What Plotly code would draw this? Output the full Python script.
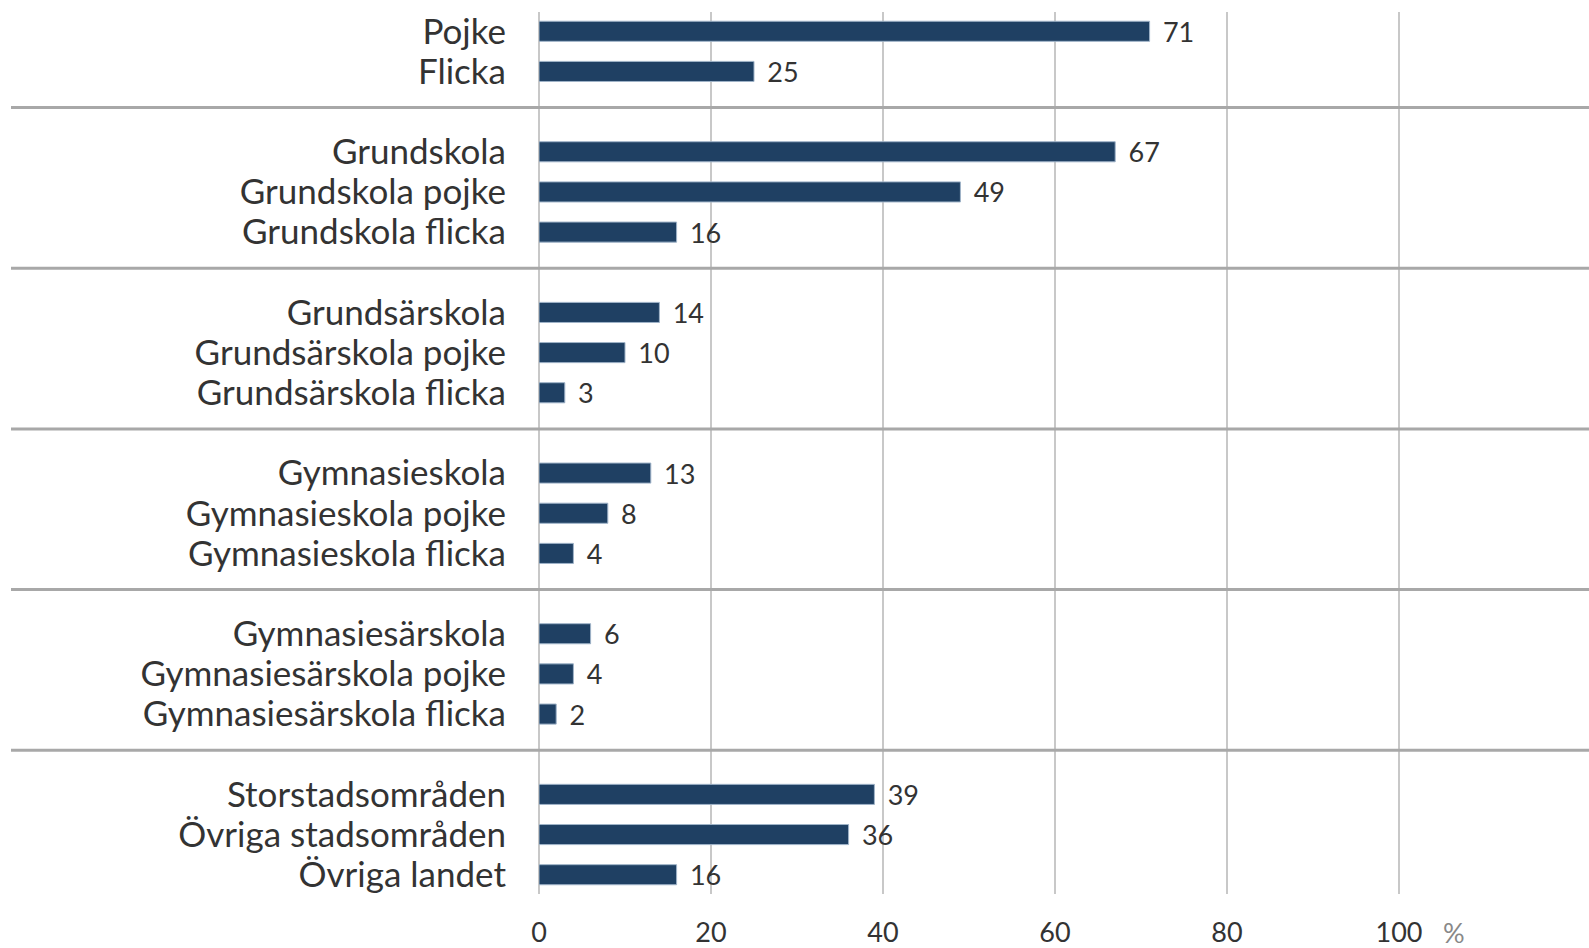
import plotly.graph_objects as go

groups = [
    ["Pojke", "Flicka"],
    ["Grundskola", "Grundskola pojke", "Grundskola flicka"],
    ["Grundsärskola", "Grundsärskola pojke", "Grundsärskola flicka"],
    ["Gymnasieskola", "Gymnasieskola pojke", "Gymnasieskola flicka"],
    ["Gymnasiesärskola", "Gymnasiesärskola pojke", "Gymnasiesärskola flicka"],
    ["Storstadsområden", "Övriga stadsområden", "Övriga landet"],
]
values = [
    [71, 25],
    [67, 49, 16],
    [14, 10, 3],
    [13, 8, 4],
    [6, 4, 2],
    [39, 36, 16],
]
x_ticks = [0, 20, 40, 60, 80, 100]

labels, vals, slots, seps = [], [], [], []
s = 0
for gi, (g, v) in enumerate(zip(groups, values)):
    for lab, val in zip(g, v):
        labels.append(lab)
        vals.append(val)
        slots.append(s)
        s += 1
    if gi < len(groups) - 1:
        seps.append(s - 0.1)
        s += 1

FONT = "Lato"
BAR = "#1f4063"
X_MAX = (1589 - 539) / 8.6

fig = go.Figure()
fig.add_trace(go.Bar(
    x=vals, y=slots, orientation="h", width=0.5,
    marker=dict(color=BAR, line=dict(color="#9fb3c8", width=1)),
    text=vals, texttemplate="\u00a0\u2009%{text}", textposition="outside",
    constraintext="none",
    textfont=dict(family=FONT, size=27, color="#333333"),
    cliponaxis=False, hoverinfo="skip",
))

shapes = []
for y in seps:
    shapes.append(dict(type="line", xref="paper", yref="y",
                       x0=(11 - 539) / (1589 - 539), x1=1, y0=y, y1=y,
                       line=dict(color="#a8a8a8", width=3)))

fig.update_layout(
    width=1589, height=948,
    margin=dict(l=539, r=0, t=12, b=54, autoexpand=False),
    paper_bgcolor="white", plot_bgcolor="white",
    showlegend=False,
    shapes=shapes,
    xaxis=dict(range=[0, X_MAX], tickvals=x_ticks, showgrid=True,
               gridcolor="#c8c8c8", gridwidth=1.5, zeroline=True,
               zerolinecolor="#c8c8c8", zerolinewidth=1.5, showline=False,
               automargin=False,
               tickfont=dict(family=FONT, size=27, color="#333333"),
               ticklabelstandoff=20),
    yaxis=dict(range=[len(slots) + len(seps) - 0.52, -0.48], tickvals=slots,
               ticktext=labels, showgrid=False, zeroline=False, showline=False,
               automargin=False,
               tickfont=dict(family=FONT, size=35, color="#333333"),
               ticklabelstandoff=32),
    annotations=[dict(text="%", xref="x", yref="paper", x=106.4, y=0,
                      yanchor="middle", yshift=-38, showarrow=False,
                      font=dict(family=FONT, size=27, color="#888888"))],
)
fig.write_html("out.html", config={"displayModeBar": False},
               post_script="document.body.style.margin='0';")
